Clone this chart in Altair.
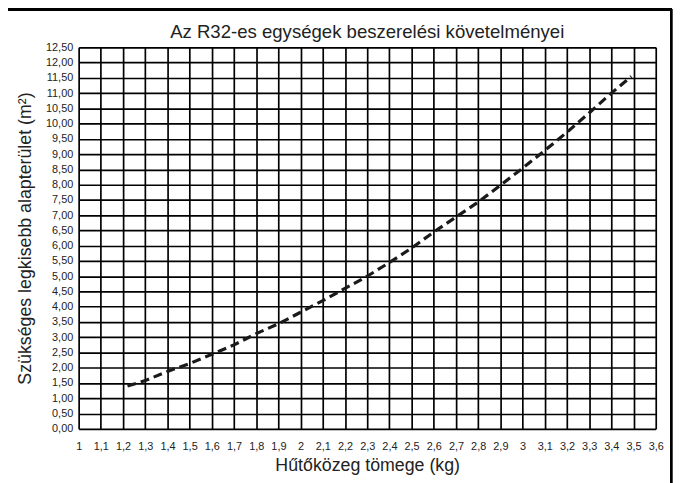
import altair as alt
import pandas as pd

# Data
mass_kg = [1.22, 1.3, 1.4, 1.5, 1.6, 1.7, 1.8, 1.9, 2.0, 2.1, 2.2, 2.3, 2.4, 2.5,
           2.6, 2.7, 2.8, 2.9, 3.0, 3.1, 3.2, 3.3, 3.4, 3.49]
area_m2 = [1.40, 1.58, 1.88, 2.14, 2.44, 2.75, 3.12, 3.44, 3.82, 4.20, 4.60, 5.00,
           5.45, 5.92, 6.45, 6.94, 7.43, 7.98, 8.54, 9.12, 9.72, 10.35, 11.00, 11.55]

x_ticks = [1.0, 1.1, 1.2, 1.3, 1.4, 1.5, 1.6, 1.7, 1.8, 1.9, 2.0, 2.1, 2.2, 2.3,
           2.4, 2.5, 2.6, 2.7, 2.8, 2.9, 3.0, 3.1, 3.2, 3.3, 3.4, 3.5, 3.6]
y_ticks = [0.0, 0.5, 1.0, 1.5, 2.0, 2.5, 3.0, 3.5, 4.0, 4.5, 5.0, 5.5, 6.0, 6.5,
           7.0, 7.5, 8.0, 8.5, 9.0, 9.5, 10.0, 10.5, 11.0, 11.5, 12.0, 12.5]

title_text = "Az R32-es egységek beszerelési követelményei"
x_title = "Hűtőközeg tömege (kg)"
y_title = "Szükséges legkisebb alapterület (m²)"

df = pd.DataFrame({"m": mass_kg, "a": area_m2})

W, H = 584, 386
FONT = "Liberation Sans"

x_enc = alt.X(
    "m:Q",
    scale=alt.Scale(domain=[1.0, 3.6], nice=False, zero=False),
    axis=alt.Axis(
        values=x_ticks,
        title=x_title,
        labelExpr="replace(format(datum.value, '.2~f'), '.', ',')",
        grid=True, gridColor="black", gridWidth=1.7, gridOpacity=1,
        ticks=False, domain=False,
        labelFont=FONT, labelFontSize=11, labelColor="#222", labelPadding=12,
        labelOverlap=False, labelFlush=False,
        titleFont=FONT, titleFontSize=18, titleFontWeight="normal", titleColor="#222",
        titlePadding=5,
    ),
)
y_enc = alt.Y(
    "a:Q",
    scale=alt.Scale(domain=[0, 12.5], nice=False, zero=True),
    axis=alt.Axis(
        values=y_ticks,
        title=y_title,
        labelExpr="replace(format(datum.value, '.2f'), '.', ',')",
        grid=True, gridColor="black", gridWidth=1.7, gridOpacity=1,
        ticks=False, domain=False,
        labelFont=FONT, labelFontSize=11, labelColor="#222", labelPadding=6,
        labelOverlap=False, labelFlush=False,
        titleFont=FONT, titleFontSize=18, titleFontWeight="normal", titleColor="#222",
        titlePadding=11,
    ),
)

line = alt.Chart(df).mark_line(
    color="#1a1a1a", strokeWidth=3.2, strokeDash=[9, 5]
).encode(x=x_enc, y=y_enc)

frame = alt.Chart(df).mark_rect(
    filled=False, stroke="black", strokeWidth=2, clip=False
).encode(
    x=alt.value(-72.5), x2=alt.value(599.5),
    y=alt.value(-38), y2=alt.value(460),
)

title = alt.Chart(pd.DataFrame({"t": [title_text]})).mark_text(
    font=FONT, fontSize=18.8, color="#222", align="center", baseline="middle"
).encode(
    x=alt.value(W / 2), y=alt.value(-15), text="t:N"
)

chart = alt.layer(frame, line, title).properties(
    width=W, height=H,
    autosize=alt.AutoSizeParams(type="none"),
    padding={"left": 71.5, "top": 37, "right": 20.5, "bottom": 52},
).configure_view(
    stroke="black", strokeWidth=2.2
).configure(background="white")

chart.save("out.html", embed_options={"renderer": "svg", "actions": False})
